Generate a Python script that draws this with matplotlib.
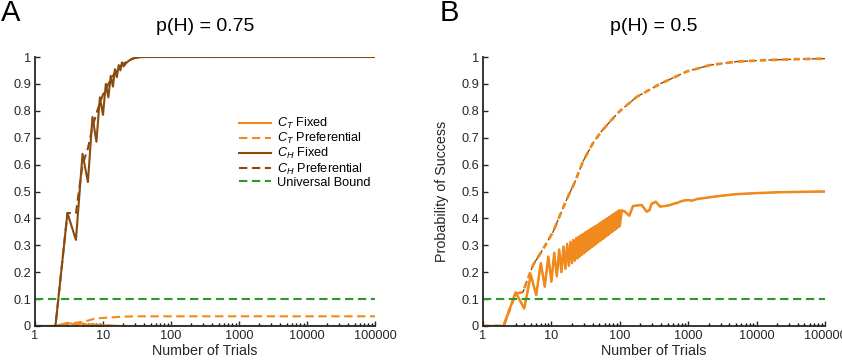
import numpy as np
import matplotlib
matplotlib.use('Agg')
import matplotlib.pyplot as plt

plt.rcParams['font.family'] = ['Liberation Sans', 'DejaVu Sans']
plt.rcParams['mathtext.fontset'] = 'custom'
plt.rcParams['mathtext.it'] = 'Liberation Sans:italic'
plt.rcParams['mathtext.rm'] = 'Liberation Sans'

ORANGE = '#F08A1C'
BROWN = '#8B4B10'
GREEN = '#2A9A2A'
AXC = '#262626'

# ---- panel A : p(H) = 0.75 ----
a_ch_fix_n = [1, 2, 3, 4, 5, 6, 7, 8, 9, 10, 11, 12, 13, 14, 15, 16, 17, 18, 19, 20,
              22, 24, 26, 28, 30, 35, 40, 100000]
a_ch_fix_p = [0, 0, 0.42, 0.32, 0.64, 0.535, 0.777, 0.685, 0.85, 0.785, 0.90, 0.85,
              0.93, 0.89, 0.955, 0.925, 0.97, 0.95, 0.98, 0.965,
              0.978, 0.986, 0.991, 0.995, 0.997, 0.999, 1.0, 1.0]
a_ch_pref_n = [1, 2, 3, 4, 5, 6, 7, 8, 9, 10, 12, 14, 16, 20, 25, 30, 40, 100000]
a_ch_pref_p = [0, 0, 0.42, 0.42, 0.60, 0.66, 0.74, 0.79, 0.83, 0.86, 0.90, 0.93,
               0.955, 0.975, 0.99, 0.997, 1.0, 1.0]
a_ct_fix_n = [1, 2, 3, 4, 5, 6, 7, 8, 9, 10, 12, 15, 20, 100000]
a_ct_fix_p = [0, 0, 0.012, 0.004, 0.010, 0.004, 0.008, 0.003, 0.006, 0.002, 0.003,
              0.001, 0, 0]
a_ct_pref_n = [1, 2, 3, 4, 5, 6, 7, 8, 10, 15, 20, 30, 100000]
a_ct_pref_p = [0, 0, 0.008, 0.012, 0.016, 0.020, 0.025, 0.028, 0.030, 0.033, 0.035,
               0.036, 0.036]

# ---- panel B : p(H) = 0.5 ----
b_fix_odd = [0, 0.125, 0.19, 0.234, 0.258, 0.272, 0.284, 0.295, 0.305, 0.313,
             0.320, 0.326, 0.332, 0.337, 0.342, 0.347, 0.351, 0.355, 0.359, 0.363,
             0.366, 0.369, 0.372, 0.375, 0.378, 0.381, 0.384, 0.387, 0.389, 0.392,
             0.394, 0.397, 0.399, 0.401, 0.403, 0.405, 0.407, 0.409, 0.411, 0.413,
             0.415, 0.417, 0.419, 0.420, 0.422, 0.424, 0.425, 0.427, 0.428, 0.430]
b_fix_even = [0, 0.065, 0.115, 0.146, 0.165, 0.185, 0.200, 0.213, 0.224, 0.234,
              0.243, 0.251, 0.258, 0.265, 0.271, 0.277, 0.282, 0.287, 0.292, 0.296,
              0.300, 0.304, 0.308, 0.312, 0.315, 0.318, 0.321, 0.324, 0.327, 0.330,
              0.333, 0.336, 0.338, 0.341, 0.343, 0.346, 0.348, 0.350, 0.352, 0.354,
              0.356, 0.358, 0.360, 0.362, 0.364, 0.366, 0.368, 0.369, 0.371, 0.373]
b_tail_n = [107, 119, 138, 156, 180, 209, 247, 270, 291, 336, 387, 458, 550, 620,
            680, 760, 845, 1000, 1150, 1340, 2000, 3000, 5000, 10000, 20000, 50000,
            100000]
b_tail_p = [0.43, 0.425, 0.41, 0.446, 0.448, 0.45, 0.425, 0.43, 0.454, 0.462, 0.444,
            0.446, 0.45, 0.455, 0.457, 0.462, 0.466, 0.468, 0.466, 0.472, 0.478,
            0.484, 0.49, 0.494, 0.497, 0.499, 0.5]
b_pref_n = [1, 2, 3, 3.85, 4.35, 5.4, 7.6, 10.6, 13.4, 16.7, 22, 29, 40.5, 54.5,
            75, 101, 177, 388, 950, 2090, 5150, 15700, 40000, 100000]
b_pref_p = [0, 0, 0.12, 0.126, 0.164, 0.227, 0.287, 0.35, 0.413, 0.47, 0.535,
            0.612, 0.68, 0.725, 0.765, 0.80, 0.852, 0.90, 0.946, 0.97, 0.983,
            0.989, 0.992, 0.994]

bound = 0.1

yticks = [0, 0.1, 0.2, 0.3, 0.4, 0.5, 0.6, 0.7, 0.8, 0.9, 1]
ytick_labels = ['0', '0.1', '0.2', '0.3', '0.4', '0.5', '0.6', '0.7', '0.8', '0.9', '1']
xticks = [1, 10, 100, 1000, 10000, 100000]
xtick_labels = ['1', '10', '100', '1000', '10000', '100000']

# build panel B fixed curve
b_fix_n = list(range(1, 101)) + b_tail_n
b_fix_p = []
for o, e in zip(b_fix_odd, b_fix_even):
    b_fix_p += [o, e]
b_fix_p += b_tail_p

fig = plt.figure(figsize=(8.42, 3.64), dpi=100)
axA = fig.add_axes([35/842, 38/364, 340/842, 269/364])
axB = fig.add_axes([483/842, 38/364, 342/842, 269/364])


def style(ax, title):
    ax.set_xscale('log')
    ax.set_xlim(1, 100000)
    ax.set_ylim(0, 1)
    for s in ['top', 'right']:
        ax.spines[s].set_visible(False)
    for s in ['left', 'bottom']:
        ax.spines[s].set_linewidth(1.3)
        ax.spines[s].set_color(AXC)
    ax.set_yticks(yticks)
    ax.set_yticklabels(ytick_labels)
    ax.set_xticks(xticks)
    ax.set_xticklabels(xtick_labels)
    ax.tick_params(direction='in', length=3.5, width=1.0, color=AXC,
                   labelsize=9.2, labelcolor=AXC, pad=3)
    ax.tick_params(which='minor', direction='in', length=2.5, width=1.0, color='black')
    ax.set_xlabel('Number of Trials', fontsize=10.3, color=AXC, labelpad=1)
    ax.set_ylabel('Probability of Success', fontsize=10.3, color=AXC)
    ax.yaxis.set_label_coords(-34/340, 0.5)
    ax.set_title(title, fontsize=14, pad=19)


style(axA, 'p(H) = 0.75')
style(axB, 'p(H) = 0.5')

lw = 1.5
dash = (4, 2.2)
axA.plot(a_ct_fix_n, a_ct_fix_p, color=ORANGE, lw=lw, label=r'$C_T$ Fixed')
axA.plot(a_ct_pref_n, a_ct_pref_p, color=ORANGE, lw=lw, ls='--', dashes=dash,
         label=r'$C_T$ Preferential')
axA.plot(a_ch_fix_n, a_ch_fix_p, color=BROWN, lw=lw, label=r'$C_H$ Fixed')
axA.plot(a_ch_pref_n, a_ch_pref_p, color=BROWN, lw=lw, ls='--', dashes=dash,
         label=r'$C_H$ Preferential')
axA.axhline(bound, color=GREEN, lw=lw, ls='--', dashes=dash, label='Universal Bound')

axA.legend(loc='upper left', bbox_to_anchor=(0.6, 0.78), frameon=False,
           fontsize=9.2, handlelength=2.5, handletextpad=0.5, labelspacing=0.0,
           borderaxespad=0, borderpad=0)

axB.plot(b_fix_n, b_fix_p, color=BROWN, lw=1.0)
axB.plot(b_pref_n, b_pref_p, color=BROWN, lw=1.0, ls='--', dashes=dash)
axB.plot(b_fix_n, b_fix_p, color=ORANGE, lw=1.8)
axB.plot(b_pref_n, b_pref_p, color=ORANGE, lw=2.0, ls='--', dashes=(2.2, 1.8))
axB.axhline(bound, color=GREEN, lw=lw, ls='--', dashes=dash)

fig.text(1/842, 1 - 13/364, 'A', fontsize=21, va='center', ha='left')
fig.text(440/842, 1 - 13/364, 'B', fontsize=21, va='center', ha='left')

fig.savefig('out.png', dpi=100)
